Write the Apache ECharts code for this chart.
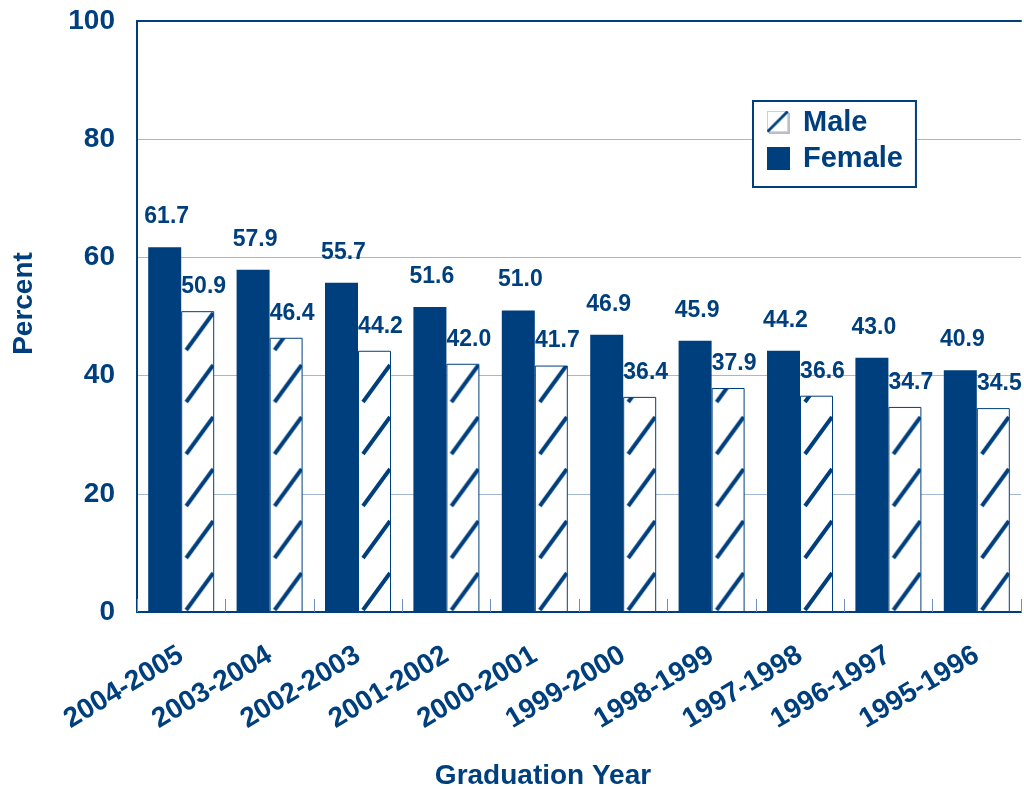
<!DOCTYPE html>
<html>
<head>
<meta charset="utf-8">
<title>Graduation Year</title>
<script src="https://cdn.jsdelivr.net/npm/echarts@6/dist/echarts.min.js"></script>
<style>
  html, body { margin: 0; padding: 0; background: #ffffff; }
  #chart { width: 1024px; height: 789px; }
</style>
</head>
<body>
<div id="chart"></div>
<script>
// Graduation years (categories), percentages by sex
const years = ['2004-2005', '2003-2004', '2002-2003', '2001-2002', '2000-2001',
               '1999-2000', '1998-1999', '1997-1998', '1996-1997', '1995-1996'];
const female = [61.7, 57.9, 55.7, 51.6, 51.0, 46.9, 45.9, 44.2, 43.0, 40.9];
const male   = [50.9, 46.4, 44.2, 42.0, 41.7, 36.4, 37.9, 36.6, 34.7, 34.5];
const yMin = 0, yMax = 100, yStep = 20;

const NAVY = '#003f7d';
const GRID_BLUE = '#a3b8d6';
const FONT = '"Liberation Sans", Arial, Helvetica, sans-serif';

// One tile of the diagonal hatch used inside the male bars
function makeHatchTile() {
  const c = document.createElement('canvas');
  c.width = 33; c.height = 52;
  const g = c.getContext('2d');
  g.fillStyle = '#ffffff';
  g.fillRect(0, 0, c.width, c.height);
  g.strokeStyle = NAVY;
  g.lineWidth = 4;
  g.lineCap = 'butt';
  g.beginPath();
  g.moveTo(5, 50);
  g.lineTo(32, 13);
  g.stroke();
  return c;
}

// Legend swatch for the hatched series: white square, soft shadow, one diagonal
function makeMaleIcon() {
  const c = document.createElement('canvas');
  c.width = 24; c.height = 24;
  const g = c.getContext('2d');
  g.fillStyle = '#b9bec6';
  g.fillRect(2, 2, 22, 22);
  g.fillStyle = '#ffffff';
  g.fillRect(0, 0, 22, 22);
  g.strokeStyle = '#c8d2e0';
  g.lineWidth = 1;
  g.strokeRect(0.5, 0.5, 21, 21);
  g.strokeStyle = NAVY;
  g.lineWidth = 3;
  g.beginPath();
  g.moveTo(0.5, 21.5);
  g.lineTo(21.5, 0.5);
  g.stroke();
  return c.toDataURL();
}

const hatchTile = makeHatchTile();
const fmt = p => Number(p.value).toFixed(1);

const chart = echarts.init(document.getElementById('chart'), null, { renderer: 'canvas' });

const option = {
  animation: false,
  backgroundColor: '#ffffff',
  textStyle: { fontFamily: FONT },
  grid: { left: 137, right: 3, top: 21, bottom: 177, outerBoundsMode: 'none' },
  legend: {
    orient: 'vertical',
    left: 753,
    top: 101,
    backgroundColor: '#ffffff',
    borderColor: NAVY,
    borderWidth: 2,
    borderRadius: 0,
    padding: [7, 13, 14, 14],
    itemGap: 7,
    itemWidth: 23,
    itemHeight: 23,
    selectedMode: false,
    textStyle: {
      color: NAVY, fontSize: 29, fontWeight: 'bold', fontFamily: FONT,
      lineHeight: 28, padding: [0, 0, 0, 8]
    },
    data: [
      { name: 'Male', icon: 'image://' + makeMaleIcon() },
      { name: 'Female', icon: 'rect' }
    ]
  },
  xAxis: [
    {
      type: 'category',
      data: years,
      boundaryGap: true,
      axisLine: { show: true, lineStyle: { color: NAVY, width: 2 } },
      axisTick: { show: true, inside: true, length: 13, interval: 0,
                  lineStyle: { color: '#6f8fb8', width: 1 } },
      axisLabel: {
        interval: 0, rotate: 31, margin: 41,
        color: NAVY, fontSize: 28, fontWeight: 'bold', fontFamily: FONT
      },
      splitLine: { show: false },
      name: 'Graduation Year',
      nameLocation: 'middle',
      nameGap: 150,
      nameTextStyle: {
        color: NAVY, fontSize: 28, fontWeight: 'bold', fontFamily: FONT,
        padding: [0, 72, 0, 0]
      }
    },
    {
      // top frame line of the plot
      type: 'category',
      data: years,
      position: 'top',
      axisLine: { show: true, lineStyle: { color: NAVY, width: 2 } },
      axisTick: { show: false },
      axisLabel: { show: false },
      splitLine: { show: false }
    }
  ],
  yAxis: {
    type: 'value',
    min: yMin, max: yMax, interval: yStep,
    axisLine: { show: true, lineStyle: { color: NAVY, width: 2 } },
    axisTick: { show: false },
    axisLabel: { margin: 22, color: NAVY, fontSize: 28, fontWeight: 'bold', fontFamily: FONT },
    splitLine: { show: true, lineStyle: { color: GRID_BLUE, width: 1 } },
    name: 'Percent',
    nameLocation: 'middle',
    nameRotate: 90,
    nameGap: 99,
    nameTextStyle: {
      color: NAVY, fontSize: 28, fontWeight: 'bold', fontFamily: FONT,
      padding: [0, 0, 0, 26]
    }
  },
  series: [
    {
      id: 'female',
      name: 'Female',
      type: 'bar',
      barWidth: 33,
      barGap: '0%',
      data: female,
      itemStyle: { color: NAVY },
      emphasis: { disabled: true },
      label: {
        show: true, position: 'top', distance: 19, offset: [2, 0],
        color: NAVY, fontSize: 23, fontWeight: 'bold', fontFamily: FONT,
        formatter: fmt
      }
    },
    {
      id: 'male',
      name: 'Male',
      type: 'bar',
      barWidth: 33,
      barGap: '0%',
      data: male,
      itemStyle: { color: '#ffffff', borderColor: NAVY, borderWidth: 1 },
      emphasis: { disabled: true },
      label: {
        show: true, position: 'top', distance: 13, offset: [6, 0],
        color: NAVY, fontSize: 23, fontWeight: 'bold', fontFamily: FONT,
        formatter: fmt
      }
    }
  ]
};

chart.setOption(option);

// Anchor the hatch of each male bar to its own left edge and to the baseline
const baseY = chart.convertToPixel({ yAxisIndex: 0 }, yMin);
const maleItems = male.map((v, i) => ({
  value: v,
  itemStyle: {
    color: {
      image: hatchTile,
      repeat: 'repeat',
      x: chart.convertToPixel({ xAxisIndex: 0 }, i),
      y: baseY
    }
  }
}));
chart.setOption({ series: [{ id: 'male', data: maleItems }] });
</script>
</body>
</html>
